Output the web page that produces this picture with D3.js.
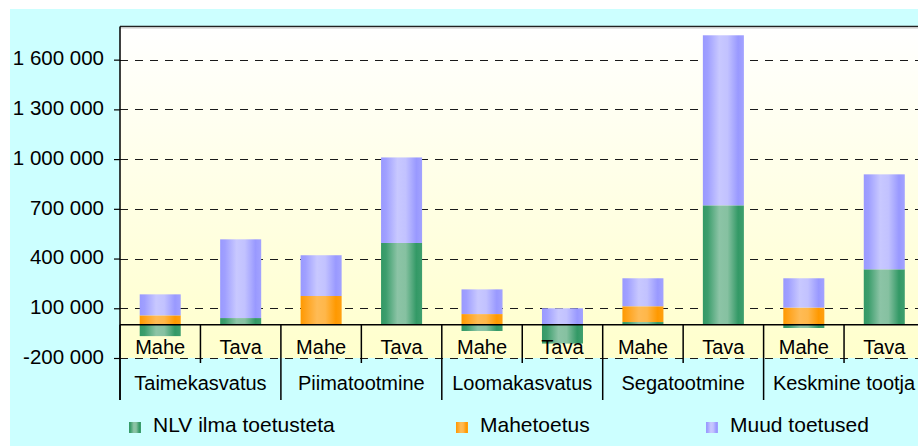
<!DOCTYPE html>
<html>
<head>
<meta charset="utf-8">
<script src="https://cdn.jsdelivr.net/npm/d3@7"></script>
<style>
  html, body { margin: 0; padding: 0; background: #ffffff; }
  svg { display: block; }
  text { font-family: "Liberation Sans", Arial, sans-serif; fill: #000; }
</style>
</head>
<body>
<svg id="chart" width="918" height="446"></svg>
<script>
// ---- data ----
const groupLabels = ["Taimekasvatus", "Piimatootmine", "Loomakasvatus", "Segatootmine", "Keskmine tootja"];
const typeLabels = ["Mahe", "Tava"];
const seriesNames = ["NLV ilma toetusteta", "Mahetoetus", "Muud toetused"];
const nlvValues   = [-68000, 41000,      0, 494000, -37000, -113000,  17000,  721000, -19000, 335000];
const maheValues  = [ 57000,     0, 174000,      0,  65000,       0,  95000,       0, 104000,      0];
const muudValues  = [127000, 475000, 246000, 516000, 149000,  100000, 169000, 1026000, 177000, 573000];
const yTickValues = [-200000, 100000, 400000, 700000, 1000000, 1300000, 1600000];

// ---- layout ----
const svg = d3.select("#chart");
const W = 918, H = 446;
const plotLeft = 120, plotRight = 924.5, plotTop = 26.5, plotBottom = 358;

const categories = [];
groupLabels.forEach((g, gi) => typeLabels.forEach((t, ti) => categories.push({ key: gi * 2 + ti, group: g, type: t })));
const rows = categories.map((c, i) => ({
  key: c.key,
  [seriesNames[0]]: nlvValues[i],
  [seriesNames[1]]: maheValues[i],
  [seriesNames[2]]: muudValues[i]
}));

const x = d3.scaleBand().domain(categories.map(c => c.key)).range([plotLeft, plotRight]).padding(0);
const xg = d3.scaleBand().domain(groupLabels).range([plotLeft, plotRight]).padding(0);
const y = d3.scaleLinear().domain([-200000, 1800000]).range([plotBottom, plotTop]);
const barW = x.bandwidth() * 0.51;

const defs = svg.append("defs");
const bg = defs.append("linearGradient").attr("id", "plotbg").attr("x1", 0).attr("x2", 0).attr("y1", 0).attr("y2", 1);
bg.append("stop").attr("offset", 0).attr("stop-color", "#ffffff");
bg.append("stop").attr("offset", 1).attr("stop-color", "#ffffcc");

const palettes = [
  ["#339966", "#3d9e6d", "#8cc4a6", "#86c1a1", "#339966", "#3f9f6e"],
  ["#ff9900", "#ffa21a", "#ffbb55", "#ffb74a", "#ff9900", "#ffa011"],
  ["#9999ff", "#a0a0ff", "#c8c8ff", "#c2c2ff", "#9999ff", "#a3a3ff"]
];
const offs = [0, 0.12, 0.4, 0.6, 0.86, 1];
palettes.forEach((p, i) => {
  const g = defs.append("linearGradient").attr("id", "bar" + i).attr("x1", 0).attr("x2", 1).attr("y1", 0).attr("y2", 0);
  p.forEach((c, j) => g.append("stop").attr("offset", offs[j]).attr("stop-color", c));
});

// backgrounds
svg.append("rect").attr("x", 10).attr("y", 9).attr("width", W - 10).attr("height", H - 9).attr("fill", "#ccffff");
svg.append("rect").attr("x", plotLeft).attr("y", plotTop).attr("width", plotRight - plotLeft).attr("height", plotBottom - plotTop).attr("fill", "url(#plotbg)");

// gridlines
svg.append("g").selectAll("line").data(yTickValues).join("line")
  .attr("x1", plotLeft).attr("x2", plotRight)
  .attr("y1", d => Math.round(y(d)) + 0.5).attr("y2", d => Math.round(y(d)) + 0.5)
  .attr("stroke", "#1a1a1a").attr("stroke-width", 1).attr("stroke-dasharray", "8,7");

// top border
svg.append("line").attr("x1", plotLeft).attr("x2", plotRight).attr("y1", plotTop).attr("y2", plotTop)
  .attr("stroke", "#222").attr("stroke-width", 1.5);
svg.append("line").attr("x1", plotLeft).attr("x2", plotRight).attr("y1", plotTop + 1.5).attr("y2", plotTop + 1.5)
  .attr("stroke", "#c8c8c8").attr("stroke-width", 1);

// bars
const stack = d3.stack().keys(seriesNames).offset(d3.stackOffsetDiverging);
const stacked = stack(rows);
svg.append("g").selectAll("g").data(stacked).join("g")
  .attr("fill", (d, i) => "url(#bar" + i + ")")
  .selectAll("rect").data(d => d.filter(v => v[1] !== v[0])).join("rect")
  .attr("x", d => x(d.data.key) + (x.bandwidth() - barW) / 2)
  .attr("width", barW)
  .attr("y", d => y(Math.max(d[0], d[1])))
  .attr("height", d => Math.abs(y(d[0]) - y(d[1])));

// zero line
svg.append("line").attr("x1", plotLeft).attr("x2", plotRight).attr("y1", y(0)).attr("y2", y(0))
  .attr("stroke", "#000").attr("stroke-width", 1.5);

// category separators
svg.append("g").selectAll("line").data(categories.concat([{ key: "end" }])).join("line")
  .attr("x1", (d, i) => plotLeft + i * x.step()).attr("x2", (d, i) => plotLeft + i * x.step())
  .attr("y1", y(0)).attr("y2", (d, i) => i % 2 === 0 ? 400 : 363)
  .attr("stroke", "#000").attr("stroke-width", 1.5);

// y axis
const fmt = d3.formatLocale({ decimal: ",", thousands: " ", grouping: [3], currency: ["", ""], minus: "-" }).format(",d");
const yAxis = svg.append("g").attr("transform", `translate(${plotLeft},0)`)
  .call(d3.axisLeft(y).tickValues(yTickValues).tickSize(6).tickFormat(fmt));
yAxis.select(".domain").remove();
yAxis.selectAll(".tick line").attr("stroke", "#000").attr("stroke-width", 1.2);
yAxis.selectAll(".tick text").attr("font-size", 20.5).attr("x", -16).attr("dy", "0.26em")
  .style("font-family", '"Liberation Sans", Arial, sans-serif').attr("fill", "#000");
svg.append("line").attr("x1", plotLeft).attr("x2", plotLeft).attr("y1", plotTop).attr("y2", 400)
  .attr("stroke", "#000").attr("stroke-width", 1.5);

// category labels
svg.append("g").selectAll("text").data(categories).join("text")
  .attr("x", d => x(d.key) + x.bandwidth() / 2).attr("y", 354)
  .attr("text-anchor", "middle").attr("font-size", 20).text(d => d.type);

// group labels
svg.append("g").selectAll("text").data(groupLabels).join("text")
  .attr("x", d => xg(d) + xg.bandwidth() / 2).attr("y", 390)
  .attr("text-anchor", "middle").attr("font-size", 20).text(d => d);

// legend
const legendX = [129, 456, 706];
const legend = svg.append("g").selectAll("g").data(seriesNames).join("g")
  .attr("transform", (d, i) => `translate(${legendX[i]},0)`);
legend.append("rect").attr("x", 0).attr("y", 422).attr("width", 12).attr("height", 11)
  .attr("fill", (d, i) => "url(#bar" + i + ")");
legend.append("text").attr("x", 24).attr("y", 432).attr("font-size", 21).text(d => d);
</script>
</body>
</html>
